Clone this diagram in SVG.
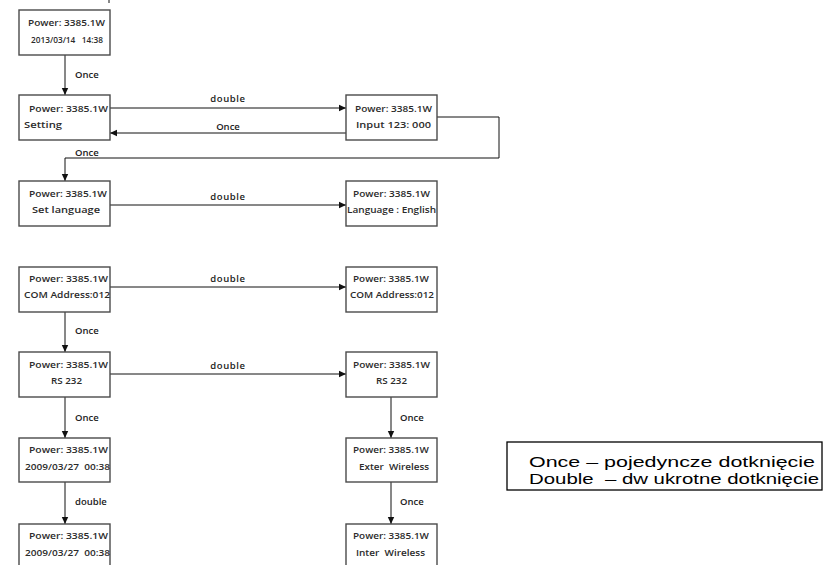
<svg xmlns="http://www.w3.org/2000/svg" width="825" height="565" viewBox="0 0 825 565">
<defs>
<marker id="ah" markerWidth="8" markerHeight="8" refX="7" refY="4" orient="auto" markerUnits="userSpaceOnUse">
<path d="M0,0.8 L7,4 L0,7.2 Z" fill="#111"/>
</marker>
<style>
.box{fill:#fff;stroke:#4a4a4a;stroke-width:1.4}
.t{font-family:"Open Sans","DejaVu Sans",sans-serif;font-size:8.5px;fill:#2b2b2b;font-weight:600}
.t2{font-family:"Open Sans","DejaVu Sans",sans-serif;font-size:9px;fill:#2b2b2b;font-weight:600}
.lbl{font-family:"Open Sans","DejaVu Sans",sans-serif;font-size:9.5px;fill:#222;font-weight:600}
.c{fill:none;stroke:#111;stroke-width:1}
.leg{font-family:"Liberation Sans",Arial,sans-serif;font-size:14.5px;fill:#000}
</style>
</defs>
<rect width="825" height="565" fill="#fff"/>

<g id="connectors">
<line class="c" x1="109" y1="0" x2="109" y2="3"/>
<line class="c" x1="65" y1="55" x2="65" y2="95" marker-end="url(#ah)"/>
<line class="c" x1="110" y1="108" x2="346" y2="108" marker-end="url(#ah)"/>
<line class="c" x1="346" y1="133" x2="110" y2="133" marker-end="url(#ah)"/>
<polyline class="c" points="437,117 499,117 499,158 65,158 65,181" marker-end="url(#ah)"/>
<line class="c" x1="110" y1="205" x2="346" y2="205" marker-end="url(#ah)"/>
<line class="c" x1="110" y1="287" x2="346" y2="287" marker-end="url(#ah)"/>
<line class="c" x1="65" y1="312" x2="65" y2="352" marker-end="url(#ah)"/>
<line class="c" x1="110" y1="374" x2="346" y2="374" marker-end="url(#ah)"/>
<line class="c" x1="65" y1="397" x2="65" y2="438" marker-end="url(#ah)"/>
<line class="c" x1="391" y1="397" x2="391" y2="438" marker-end="url(#ah)"/>
<line class="c" x1="65" y1="482" x2="65" y2="524" marker-end="url(#ah)"/>
<line class="c" x1="391" y1="482" x2="391" y2="524" marker-end="url(#ah)"/>
<text class="lbl" x="75" y="78">Once</text>
<text class="lbl" x="228" y="102" text-anchor="middle" letter-spacing="0.6">double</text>
<text class="lbl" x="228" y="130" text-anchor="middle">Once</text>
<text class="lbl" x="75" y="156">Once</text>
<text class="lbl" x="228" y="200" text-anchor="middle" letter-spacing="0.6">double</text>
<text class="lbl" x="228" y="282" text-anchor="middle" letter-spacing="0.6">double</text>
<text class="lbl" x="75" y="334">Once</text>
<text class="lbl" x="228" y="369" text-anchor="middle" letter-spacing="0.6">double</text>
<text class="lbl" x="75" y="421">Once</text>
<text class="lbl" x="400" y="421">Once</text>
<text class="lbl" x="75" y="505">double</text>
<text class="lbl" x="400" y="505">Once</text>
</g>

<g id="n1">
<rect class="box" x="19" y="10" width="91" height="45"/>
<text class="t" x="28" y="26" textLength="77" lengthAdjust="spacingAndGlyphs">Power: 3385.1W</text>
<text class="t" x="31" y="43" font-size="7" textLength="72" lengthAdjust="spacingAndGlyphs" xml:space="preserve">2013/03/14   14:38</text>
</g>
<g id="n2">
<rect class="box" x="19" y="95" width="91" height="45"/>
<text class="t" x="29" y="112" textLength="79" lengthAdjust="spacingAndGlyphs">Power: 3385.1W</text>
<text class="t2" x="24" y="128" textLength="38" lengthAdjust="spacingAndGlyphs">Setting</text>
</g>
<g id="n3">
<rect class="box" x="346" y="95" width="91" height="45"/>
<text class="t" x="355" y="112" textLength="77" lengthAdjust="spacingAndGlyphs">Power: 3385.1W</text>
<text class="t2" x="356" y="128" textLength="75" lengthAdjust="spacingAndGlyphs">Input 123: 000</text>
</g>
<g id="n4">
<rect class="box" x="19" y="181" width="91" height="45"/>
<text class="t" x="29" y="197" textLength="78" lengthAdjust="spacingAndGlyphs">Power: 3385.1W</text>
<text class="t2" x="32" y="213" textLength="68" lengthAdjust="spacingAndGlyphs">Set language</text>
</g>
<g id="n5">
<rect class="box" x="346" y="181" width="91" height="45"/>
<text class="t" x="353" y="197" textLength="77" lengthAdjust="spacingAndGlyphs">Power: 3385.1W</text>
<text class="t2" x="347" y="213" textLength="89" lengthAdjust="spacingAndGlyphs">Language : English</text>
</g>
<g id="n6">
<rect class="box" x="19" y="267" width="91" height="45"/>
<text class="t" x="29" y="282" textLength="79" lengthAdjust="spacingAndGlyphs">Power: 3385.1W</text>
<text class="t2" x="24" y="298" textLength="86" lengthAdjust="spacingAndGlyphs">COM Address:012</text>
</g>
<g id="n7">
<rect class="box" x="346" y="267" width="91" height="45"/>
<text class="t" x="353" y="282" textLength="76" lengthAdjust="spacingAndGlyphs">Power: 3385.1W</text>
<text class="t2" x="350" y="298" textLength="84" lengthAdjust="spacingAndGlyphs">COM Address:012</text>
</g>
<g id="n8">
<rect class="box" x="19" y="352" width="91" height="45"/>
<text class="t" x="29" y="368" textLength="79" lengthAdjust="spacingAndGlyphs">Power: 3385.1W</text>
<text class="t2" x="51" y="384" textLength="31" lengthAdjust="spacingAndGlyphs">RS 232</text>
</g>
<g id="n9">
<rect class="box" x="346" y="352" width="91" height="45"/>
<text class="t" x="353" y="368" textLength="77" lengthAdjust="spacingAndGlyphs">Power: 3385.1W</text>
<text class="t2" x="376" y="384" textLength="31" lengthAdjust="spacingAndGlyphs">RS 232</text>
</g>
<g id="n10">
<rect class="box" x="19" y="438" width="91" height="44"/>
<text class="t" x="29" y="453" textLength="79" lengthAdjust="spacingAndGlyphs">Power: 3385.1W</text>
<text class="t2" x="25" y="470" textLength="85" lengthAdjust="spacingAndGlyphs" xml:space="preserve">2009/03/27  00:38</text>
</g>
<g id="n11">
<rect class="box" x="346" y="438" width="91" height="44"/>
<text class="t" x="353" y="453" textLength="76" lengthAdjust="spacingAndGlyphs">Power: 3385.1W</text>
<text class="t2" x="359" y="470" textLength="70" lengthAdjust="spacingAndGlyphs" xml:space="preserve">Exter  Wireless</text>
</g>
<g id="n12">
<rect class="box" x="19" y="524" width="91" height="50"/>
<text class="t" x="29" y="539" textLength="79" lengthAdjust="spacingAndGlyphs">Power: 3385.1W</text>
<text class="t2" x="25" y="556" textLength="85" lengthAdjust="spacingAndGlyphs" xml:space="preserve">2009/03/27  00:38</text>
</g>
<g id="n13">
<rect class="box" x="346" y="524" width="91" height="50"/>
<text class="t" x="353" y="539" textLength="76" lengthAdjust="spacingAndGlyphs">Power: 3385.1W</text>
<text class="t2" x="356" y="556" textLength="69" lengthAdjust="spacingAndGlyphs" xml:space="preserve">Inter  Wireless</text>
</g>

<g id="legend">
<rect x="507" y="442" width="315" height="48" fill="#fff" stroke="#000" stroke-width="1.3"/>
<text class="leg" x="529" y="467" textLength="286" lengthAdjust="spacingAndGlyphs">Once – pojedyncze dotknięcie</text>
<text class="leg" x="529" y="484" textLength="290" lengthAdjust="spacingAndGlyphs" xml:space="preserve">Double  – dw ukrotne dotknięcie</text>
</g>
</svg>
